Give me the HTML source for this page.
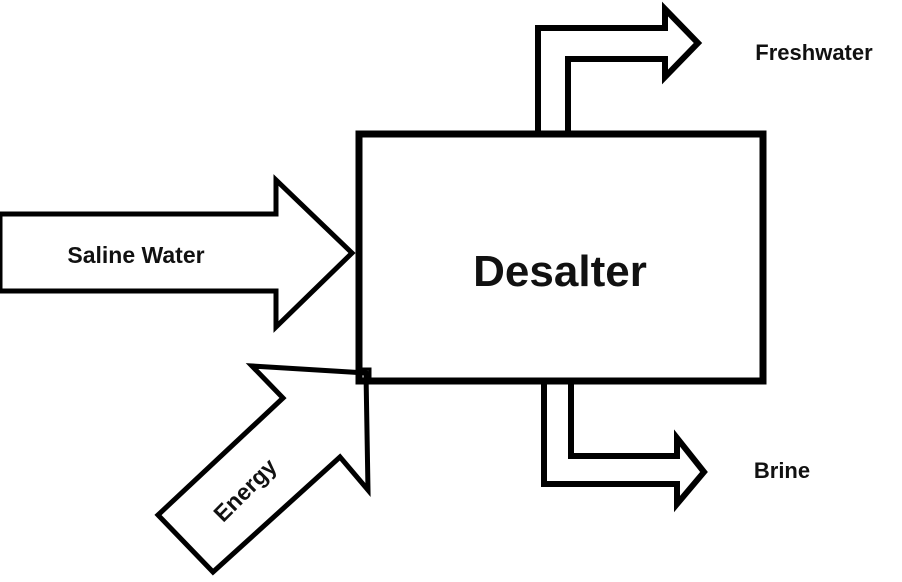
<!DOCTYPE html>
<html><head><style>
body{margin:0;background:#fff;width:902px;height:582px;overflow:hidden}
svg{display:block}
text{font-family:"Liberation Sans",sans-serif;font-weight:bold;fill:#111}
</style></head><body>
<svg width="902" height="582" viewBox="0 0 902 582">
<g fill="#fff" stroke="#000" stroke-width="6" stroke-linejoin="miter">
<polygon points="0,214 276,214 276,180 352,253 276,327 276,291 0,291" stroke-width="5"/>
<polyline points="538,133 538,28 665,28 665,9 698,43 665,77 665,59 568,59 568,133" fill="none" stroke-width="6"/>
<polyline points="544,384 544,484 677,484 677,504 704,472 677,438 677,456 571,456 571,384" fill="none" stroke-width="6"/>
<polygon points="366,373 368,490 340,457 213,572 158,515 283,398 252,366" stroke-width="5"/>
<rect x="359" y="134" width="404" height="247" fill="none" stroke-width="7"/>
<rect x="358" y="369" width="12" height="12" fill="none" stroke-width="3"/>
</g>
<text x="136" y="263" font-size="23" text-anchor="middle">Saline Water</text>
<text x="560" y="286" font-size="44" text-anchor="middle">Desalter</text>
<text x="814" y="60" font-size="22" text-anchor="middle">Freshwater</text>
<text x="782" y="478" font-size="22" text-anchor="middle">Brine</text>
<text x="245" y="498" font-size="23" text-anchor="middle" transform="rotate(-45 245 490)">Energy</text>
</svg>
</body></html>
